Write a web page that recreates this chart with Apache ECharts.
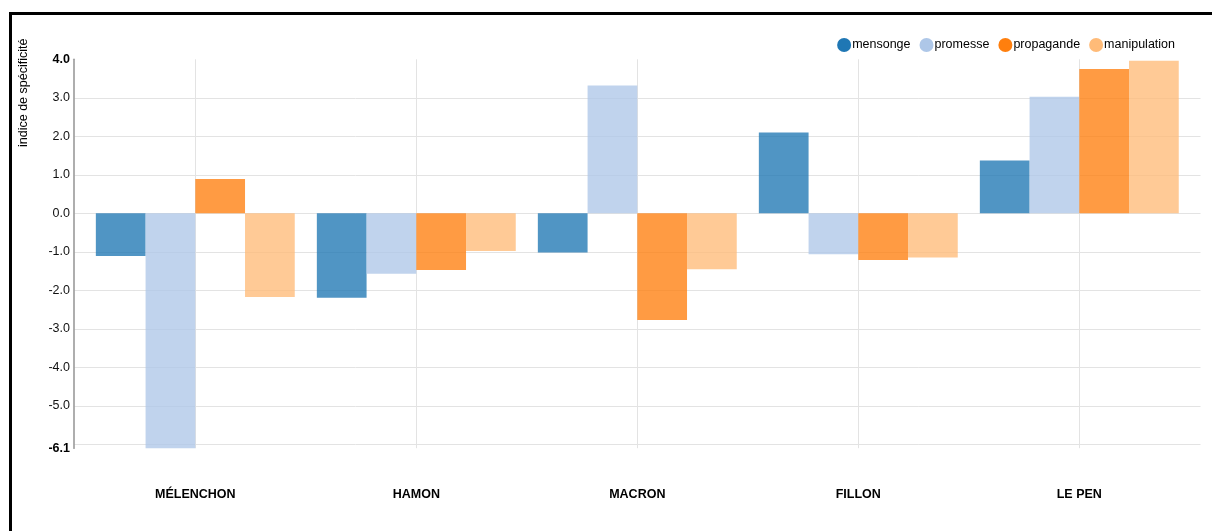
<!DOCTYPE html>
<html>
<head>
<meta charset="utf-8">
<script src="https://cdn.jsdelivr.net/npm/echarts@6/dist/echarts.min.js"></script>
<style>
html,body{margin:0;padding:0;background:#fff;}
#chart{width:1212px;height:531px;}
</style>
</head>
<body>
<div id="chart"></div>
<script>
const categories = ['MÉLENCHON', 'HAMON', 'MACRON', 'FILLON', 'LE PEN'];
const seriesNames = ['mensonge', 'promesse', 'propagande', 'manipulation'];
const mensonge = [-1.11, -2.19, -1.02, 2.10, 1.37];
const promesse = [-6.1, -1.57, 3.32, -1.06, 3.03];
const propagande = [0.89, -1.47, -2.77, -1.21, 3.75];
const manipulation = [-2.17, -0.98, -1.45, -1.15, 3.96];
const yMin = -6.1;
const yMax = 4.0;
const yAxisTitle = 'indice de spécificité';

const colors = ['#1f77b4', '#aec7e8', '#ff7f0e', '#ffbb78'];
const values = [mensonge, promesse, propagande, manipulation];
const FONT = '"Liberation Sans", Arial, sans-serif';
const FS = 12.5;

const gridTop = 59.3, gridBottom = 82.8;

const chart = echarts.init(document.getElementById('chart'), null, {renderer: 'canvas'});

function yFmt(v) {
  if (Math.abs(v - (-6)) < 1e-9) return '';
  if (Math.abs(v - yMin) < 1e-9 || Math.abs(v - yMax) < 1e-9) return '{b|' + v.toFixed(1) + '}';
  return v.toFixed(1);
}

const option = {
  animation: false,
  backgroundColor: '#fff',
  textStyle: {fontFamily: FONT},
  legend: {
    top: 33, right: 32,
    icon: 'circle', itemWidth: 14, itemHeight: 14, itemGap: 9,
    selectedMode: false,
    textStyle: {fontSize: FS, color: '#000', fontFamily: FONT, padding: [0, 0, 0, -4]},
    data: seriesNames.map((n, i) => ({name: n, itemStyle: {color: colors[i], opacity: 1}}))
  },
  grid: [
    {left: 84.8, right: 22.2, top: gridTop, bottom: gridBottom, outerBoundsMode: 'none'},
    {left: 74, right: 11.5, top: gridTop, bottom: gridBottom, outerBoundsMode: 'none'},
    {left: 195.3, right: 132.7, top: gridTop, bottom: gridBottom, outerBoundsMode: 'none'}
  ],
  xAxis: [
    {
      type: 'category', gridIndex: 0, data: categories,
      axisLine: {show: false}, axisTick: {show: false}, splitLine: {show: false},
      axisLabel: {margin: 40, fontSize: FS, fontWeight: 'bold', color: '#000', fontFamily: FONT}
    },
    {
      type: 'category', gridIndex: 1, data: categories, show: false
    },
    {
      type: 'category', gridIndex: 2, data: categories, boundaryGap: false,
      axisLine: {show: false}, axisTick: {show: false}, axisLabel: {show: false},
      splitLine: {show: true, lineStyle: {color: '#e3e3e3', width: 1}}
    }
  ],
  yAxis: [
    {type: 'value', gridIndex: 0, min: yMin, max: yMax, show: false, splitLine: {show: false}},
    {
      type: 'value', gridIndex: 1, min: yMin, max: yMax, splitNumber: 10,
      axisLine: {show: true, lineStyle: {color: '#a0a0a0', width: 1.7}},
      axisTick: {show: false},
      axisLabel: {
        margin: 4, fontSize: FS, color: '#111', fontFamily: FONT,
        formatter: yFmt,
        rich: {b: {fontWeight: 'bold', fontSize: FS, color: '#000', fontFamily: FONT}}
      },
      splitLine: {show: true, showMinLine: false, showMaxLine: false, lineStyle: {color: '#e3e3e3', width: 1}}
    },
    {type: 'value', gridIndex: 2, min: yMin, max: yMax, show: false, splitLine: {show: false}}
  ],
  graphic: [
    {type: 'rect', shape: {x: 9, y: 12, width: 1203, height: 3}, style: {fill: '#000'}, z: 100},
    {type: 'rect', shape: {x: 9, y: 12, width: 3, height: 519}, style: {fill: '#000'}, z: 100},
    {
      type: 'text', x: 24, y: 147, rotation: Math.PI / 2,
      style: {text: yAxisTitle, fontSize: FS, fontFamily: FONT, fill: '#000', textAlign: 'left', textVerticalAlign: 'middle'}
    }
  ],
  series: seriesNames.map((n, i) => ({
    name: n, type: 'bar', xAxisIndex: 0, yAxisIndex: 0,
    data: values[i],
    barGap: '0%', barCategoryGap: '10%',
    itemStyle: {color: colors[i], opacity: 0.78},
    z: 5
  }))
};
chart.setOption(option);
</script>
</body>
</html>
